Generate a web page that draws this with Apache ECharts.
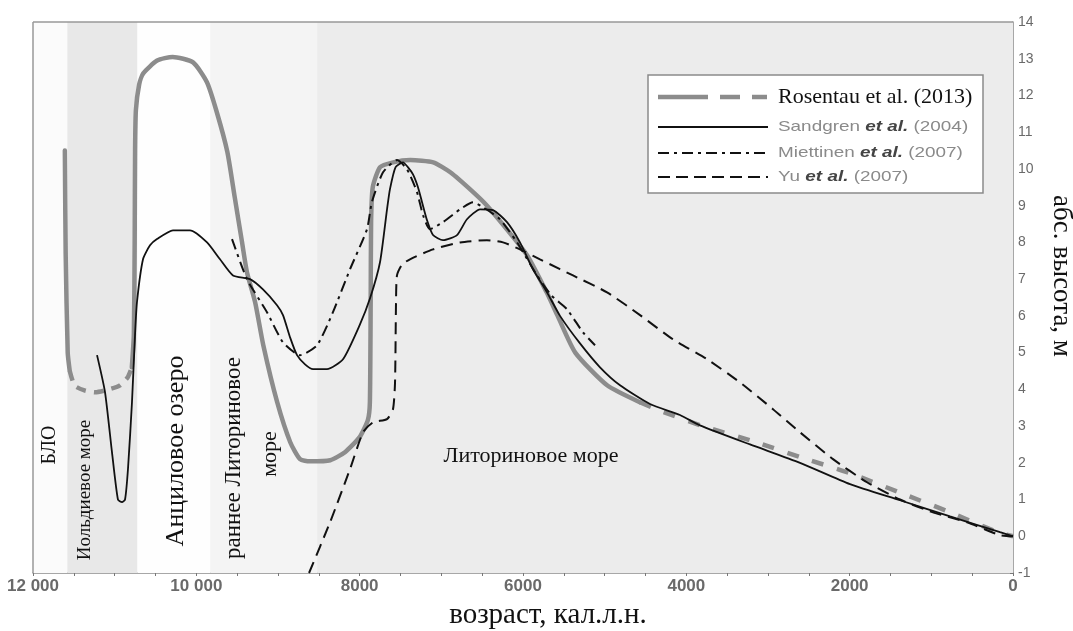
<!DOCTYPE html>
<html><head><meta charset="utf-8">
<script src="https://cdn.jsdelivr.net/npm/echarts@6/dist/echarts.min.js"></script>
<style>html,body{margin:0;padding:0;background:#fff}#c{width:1073px;height:631px}</style>
</head><body><div id="c"></div>
<script>
// ---- data (x = age, cal BP; y = abs. height, m) ----
const xTicks = [12000, 10000, 8000, 6000, 4000, 2000, 0];
const yTicks = [-1,0,1,2,3,4,5,6,7,8,9,10,11,12,13,14];
const bandBLO = [12000, 11580];
const bandYoldia = [11580, 10720];
const bandAncylus = [10720, 9830];
const bandEarlyLitorina = [9830, 8520];
const bandLitorina = [8520, 0];

const rosentauSolidA = [[11610,10.5],[11600,7.7],[11575,5.0],[11550,4.5]];
const rosentauDashedB = [[11550,4.5],[11490,4.1],[11370,3.97],[11240,3.92],[11120,3.97],[10940,4.1],[10840,4.33],[10790,4.6]];
const rosentauSolidC = [[10790,4.6],[10765,5.5],[10755,8.0],[10750,10.5],[10740,11.6],[10700,12.3],[10650,12.6],[10480,12.95],[10290,13.05],[10040,12.9],[9870,12.36],[9750,11.55],[9620,10.46],[9530,9.23],[9440,8.0],[9380,7.19],[9280,6.37],[9180,5.2],[9010,3.65],[8850,2.56],[8730,2.1],[8610,2.04],[8360,2.07],[8180,2.29],[8000,2.7],[7900,3.16],[7875,3.65],[7865,6.4],[7860,8.55],[7840,9.5],[7750,10.05],[7590,10.18],[7380,10.24],[7100,10.18],[6890,9.91],[6610,9.37],[6440,9.0],[6200,8.36],[5950,7.65],[5710,6.64],[5580,6.02],[5360,5.0],[4970,4.11],[4570,3.65]];
const rosentauDashedD = [[4570,3.65],[4300,3.4],[3800,3.0],[3200,2.6],[2600,2.15],[2000,1.72],[1400,1.2],[800,0.68],[200,0.12],[0,0]];

const sandgren = [[11216,4.93],[11118,3.92],[11033,2.29],[10960,1.0],[10910,0.93],[10873,1.0],[10837,1.83],[10788,3.65],[10751,5.47],[10727,6.37],[10653,7.54],[10567,7.92],[10482,8.09],[10286,8.33],[10078,8.33],[9869,8.0],[9710,7.54],[9551,7.1],[9343,7.0],[9184,6.72],[9012,6.29],[8939,6.02],[8850,5.4],[8767,4.93],[8669,4.68],[8571,4.55],[8400,4.55],[8204,4.82],[8000,5.75],[7870,6.5],[7751,7.46],[7665,8.9],[7629,9.45],[7560,10.05],[7470,10.18],[7410,10.05],[7347,9.85],[7286,9.5],[7237,9.1],[7175,8.6],[7102,8.2],[6980,8.06],[6808,8.2],[6686,8.63],[6526,8.9],[6367,8.88],[6196,8.55],[6037,8.0],[5878,7.27],[5706,6.64],[5547,6.0],[5302,5.25],[5057,4.6],[4812,4.11],[4445,3.6],[4078,3.3],[3833,3.02],[3220,2.5],[2608,2.0],[1996,1.42],[1384,0.98],[771,0.54],[159,0.11],[0,0]];

const miettinen = [[9563,8.09],[9380,7.0],[9135,6.1],[8939,5.28],[8730,4.93],[8522,5.2],[8327,6.1],[8118,7.27],[7910,8.36],[7850,9.1],[7714,9.91],[7543,10.24],[7420,9.99],[7298,9.37],[7224,8.74],[7139,8.36],[6980,8.55],[6771,8.9],[6612,9.09],[6490,8.96],[6282,8.63],[6073,8.0],[5828,7.1],[5650,6.55],[5461,6.18],[5265,5.55],[5118,5.2]];

const yu = [[8620,-1],[8363,0.38],[8118,1.83],[7959,2.83],[7837,3.1],[7665,3.19],[7592,3.46],[7567,4.19],[7555,6.37],[7543,7.1],[7480,7.4],[7384,7.54],[7102,7.81],[6771,8.0],[6441,8.06],[6245,8.0],[6037,7.81],[5792,7.54],[5547,7.27],[5388,7.1],[4971,6.64],[4567,6.02],[4163,5.36],[3747,4.82],[3343,4.19],[2939,3.46],[2608,2.83],[2204,2.1],[1788,1.47],[1384,1.0],[980,0.65],[563,0.38],[159,0.03],[0,0]];

const seriesNames = ['Rosentau et al. (2013)', 'Sandgren et al. (2004)', 'Miettinen et al. (2007)', 'Yu et al. (2007)'];
const zoneLabels = ['БЛО', 'Иольдиевое море', 'Анциловое озеро', 'раннее Литориновое', 'море', 'Литориновое море'];
const axisTitles = ['возраст, кал.л.н.', 'абс. высота, м'];

// ---- chart ----
const chart = echarts.init(document.getElementById('c'), null, {renderer: 'canvas'});
const SERIF = '"Liberation Serif", "DejaVu Serif", serif';
const SANS = '"Liberation Sans", Arial, sans-serif';
const GRAY = '#8c8c8c';
const rosStyle = {color: GRAY, width: 4.5, cap: 'round', join: 'round'};

function fmtX(v){ if (xTicks.indexOf(v) < 0) return ''; return v >= 10000 ? String(v).replace(/(\d\d)(\d{3})$/, '$1 $2') : String(v); }

function band(r, color){ return [{xAxis: r[0], itemStyle: {color: color}}, {xAxis: r[1]}]; }

function line(name, data, style, z){
  return {name: name, type: 'line', data: data, showSymbol: false, smooth: 0.2, z: z || 3,
    lineStyle: style, itemStyle: {color: style.color}, silent: true};
}

const legendX = 658, legendTextX = 778;
const legY = [97, 127, 153, 177];
const legRich = {a: {fontSize: 15, fontFamily: SANS, fill: '#8a8a8a'}, b: {fontSize: 15, fontFamily: SANS, fontWeight: 'bold', fontStyle: 'italic', fill: '#444'}};

function serifText(txt, x, y, size, rot){
  return {type: 'text', z: 7, x: x, y: y, rotation: rot || 0,
    style: {text: txt, font: size + 'px ' + SERIF, fill: '#111', align: 'center', verticalAlign: 'middle'}};
}

chart.setOption({
  animation: false,
  grid: {left: 33, right: 60, top: 22, bottom: 58, show: false},
  xAxis: {
    type: 'value', inverse: true, min: 0, max: 12000, interval: 500,
    axisLine: {show: true, onZero: false, lineStyle: {color: '#8a8a8a', width: 1.5}},
    axisTick: {show: true, length: 3, lineStyle: {color: '#777'}},
    axisLabel: {formatter: fmtX, color: '#6a6a6a', fontSize: 17, fontWeight: 'bold', fontFamily: SANS, margin: 5, showMinLabel: true, showMaxLabel: true},
    splitLine: {show: false}
  },
  yAxis: {
    type: 'value', position: 'right', min: yTicks[0], max: yTicks[yTicks.length-1], interval: 1,
    axisLine: {show: true, onZero: false, lineStyle: {color: '#8a8a8a', width: 1.5}},
    axisTick: {show: true, inside: true, length: 3, lineStyle: {color: '#777'}},
    axisLabel: {color: '#6a6a6a', fontSize: 14, fontFamily: SANS, margin: 5},
    splitLine: {show: false}
  },
  series: [
    {type: 'line', data: [], z: 0, silent: true,
      markArea: {silent: true, data: [
        band(bandBLO, '#fbfbfb'), band(bandYoldia, '#e8e8e8'), band(bandAncylus, '#fefefe'),
        band(bandEarlyLitorina, '#f4f4f4'), band(bandLitorina, '#ececec')]}},
    line(seriesNames[0], rosentauSolidA, rosStyle, 4),
    line(seriesNames[0], rosentauDashedB, Object.assign({}, rosStyle, {type: [10, 8], cap: 'butt'}), 4),
    line(seriesNames[0], rosentauSolidC, rosStyle, 4),
    line(seriesNames[0], rosentauDashedD, Object.assign({}, rosStyle, {type: [12, 14], cap: 'butt'}), 4),
    line(seriesNames[1], sandgren, {color: '#111', width: 1.8}, 5),
    line(seriesNames[2], miettinen, {color: '#111', width: 2, type: [11, 5, 3, 5]}, 5),
    line(seriesNames[3], yu, {color: '#111', width: 2, type: [12, 7]}, 5)
  ],
  graphic: [
    // plot frame (top and left)
    {type: 'line', z: 6, shape: {x1: 33, y1: 22, x2: 1013, y2: 22}, style: {stroke: '#999', lineWidth: 1.5}},
    {type: 'line', z: 6, shape: {x1: 33, y1: 22, x2: 33, y2: 573}, style: {stroke: '#999', lineWidth: 1.5}},
    // white text backgrounds
    {type: 'rect', z: 1, shape: {x: 72, y: 415, width: 25, height: 152}, style: {fill: '#ffffff'}},
    {type: 'rect', z: 1, shape: {x: 220, y: 352, width: 27, height: 213}, style: {fill: '#fcfcfc'}},
    {type: 'rect', z: 1, shape: {x: 250, y: 512, width: 40, height: 56}, style: {fill: '#ffffff'}},
    {type: 'rect', z: 1, shape: {x: 433, y: 437, width: 197, height: 39}, style: {fill: '#ffffff'}},
    // zone labels
    serifText(zoneLabels[0], 50, 445, 20, Math.PI/2),
    serifText(zoneLabels[1], 85, 490, 19, Math.PI/2),
    serifText(zoneLabels[2], 176, 451, 26, Math.PI/2),
    serifText(zoneLabels[3], 234, 458, 23, Math.PI/2),
    serifText(zoneLabels[4], 270, 454, 22, Math.PI/2),
    serifText(zoneLabels[5], 531, 456, 22, 0),
    // axis titles
    serifText(axisTitles[0], 548, 615, 29, 0),
    serifText(axisTitles[1], 1061, 276, 27, -Math.PI/2),
    // legend box
    {type: 'rect', z: 8, shape: {x: 648, y: 75, width: 335, height: 118}, style: {fill: '#ffffff', stroke: '#8a8a8a', lineWidth: 1.5}},
    {type: 'line', z: 9, shape: {x1: legendX, y1: legY[0], x2: 708, y2: legY[0]}, style: {stroke: GRAY, lineWidth: 4.5}},
    {type: 'line', z: 9, shape: {x1: 720, y1: legY[0], x2: 740, y2: legY[0]}, style: {stroke: GRAY, lineWidth: 4.5}},
    {type: 'line', z: 9, shape: {x1: 752, y1: legY[0], x2: 767, y2: legY[0]}, style: {stroke: GRAY, lineWidth: 4.5}},
    {type: 'line', z: 9, shape: {x1: legendX, y1: legY[1], x2: 768, y2: legY[1]}, style: {stroke: '#111', lineWidth: 1.8}},
    {type: 'line', z: 9, shape: {x1: legendX, y1: legY[2], x2: 768, y2: legY[2]}, style: {stroke: '#111', lineWidth: 2, lineDash: [11, 5, 3, 5]}},
    {type: 'line', z: 9, shape: {x1: legendX, y1: legY[3], x2: 768, y2: legY[3]}, style: {stroke: '#111', lineWidth: 2, lineDash: [12, 6]}},
    {type: 'text', z: 9, x: legendTextX, y: legY[0], style: {text: seriesNames[0], font: '22px ' + SERIF, fill: '#111', verticalAlign: 'middle'}},
    {type: 'text', z: 9, x: legendTextX, y: legY[1], scaleX: 1.26, style: {text: '{a|Sandgren }{b|et al.}{a| (2004)}', verticalAlign: 'middle', rich: legRich}},
    {type: 'text', z: 9, x: legendTextX, y: legY[2], scaleX: 1.26, style: {text: '{a|Miettinen }{b|et al.}{a| (2007)}', verticalAlign: 'middle', rich: legRich}},
    {type: 'text', z: 9, x: legendTextX, y: legY[3], scaleX: 1.26, style: {text: '{a|Yu }{b|et al.}{a| (2007)}', verticalAlign: 'middle', rich: legRich}}
  ]
});
</script>
</body></html>
